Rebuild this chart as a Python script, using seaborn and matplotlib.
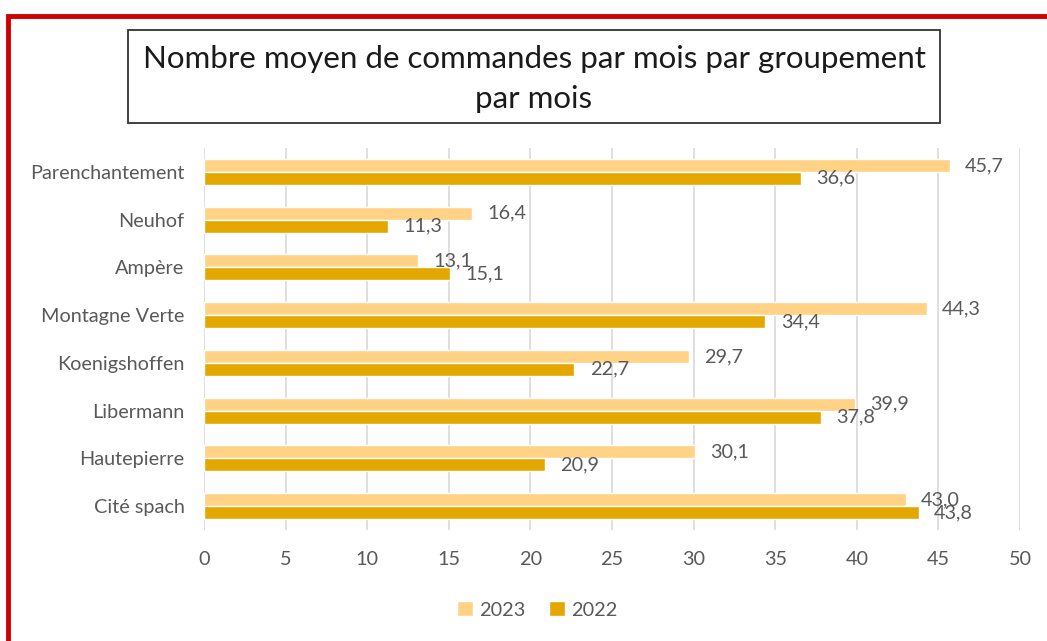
import seaborn as sns
import numpy as np
import pandas as pd
import matplotlib.pyplot as plt
from matplotlib.patches import Rectangle


groupements = ["Parenchantement", "Neuhof", "Ampère", "Montagne Verte",
               "Koenigshoffen", "Libermann", "Hautepierre", "Cité spach"]
valeurs_2023 = [45.7, 16.4, 13.1, 44.3, 29.7, 39.9, 30.1, 43.0]
valeurs_2022 = [36.6, 11.3, 15.1, 34.4, 22.7, 37.8, 20.9, 43.8]
annees = ["2023", "2022"]
couleurs = {"2023": "#FFD285", "2022": "#E3A700"}
x_ticks = [0, 5, 10, 15, 20, 25, 30, 35, 40, 45, 50]

# Mise en forme longue pour seaborn
df = pd.DataFrame({
    "Groupement": groupements * 2,
    "Annee": ["2023"] * len(groupements) + ["2022"] * len(groupements),
    "Valeur": valeurs_2023 + valeurs_2022,
})

sns.set_style("white")
plt.rcParams['font.family'] = ['Lato', 'DejaVu Sans']
fs = 14.3

fig = plt.figure(figsize=(10.47, 6.41), dpi=100)
ax = fig.add_axes([204 / 1047, 1 - 530 / 641, 816 / 1047, 382 / 641])

sns.barplot(data=df, y="Groupement", x="Valeur", hue="Annee", hue_order=annees,
            order=groupements, palette=couleurs, orient="h", width=0.54,
            saturation=1, ax=ax, legend=True)

# Etiquettes de valeurs avec virgule
for cont in ax.containers:
    vals = [r.get_width() for r in cont]
    ax.bar_label(cont, labels=[f"{v:.1f}".replace(".", ",") for v in vals],
                 padding=11, fontsize=fs, color="#595959")

ax.set_xlim(0, 50)
ax.set_ylim(7.5, -0.5)
ax.set_xticks(x_ticks)
ax.grid(axis="x", color="#D9D9D9", linewidth=1.2)
ax.set_axisbelow(True)
for s in ax.spines.values():
    s.set_visible(False)
ax.tick_params(axis="both", length=0, labelsize=fs, labelcolor="#595959")
ax.tick_params(axis="x", pad=15)
ax.tick_params(axis="y", pad=14)
ax.set_xlabel("")
ax.set_ylabel("")

# Légende en bas
handles, labels = ax.get_legend_handles_labels()
ax.get_legend().remove()
fig.legend(handles, labels, loc="center", bbox_to_anchor=(537 / 1047, 1 - 610 / 641),
           ncol=2, frameon=False, fontsize=fs, handlelength=0.8, handleheight=0.8,
           handletextpad=0.3, columnspacing=1.2, labelcolor="#595959")

# Titre encadré
fig.patches.append(Rectangle((128 / 1047, 1 - 123 / 641), 812 / 1047, 93 / 641,
                             transform=fig.transFigure, fill=False,
                             edgecolor="#333333", linewidth=1.3))
fig.text(534 / 1047, 1 - 79 / 641,
         "Nombre moyen de commandes par mois par groupement\npar mois",
         ha="center", va="center", fontsize=22.5, color="#1a1a1a", linespacing=1.55)

# Cadre rouge
fig.patches.append(Rectangle((8 / 1047, -0.1), 1.2, 0.1 + (1 - 16 / 641),
                             transform=fig.transFigure, fill=False,
                             edgecolor="#D00000", linewidth=3.5))

fig.savefig("out.png", dpi=100)
